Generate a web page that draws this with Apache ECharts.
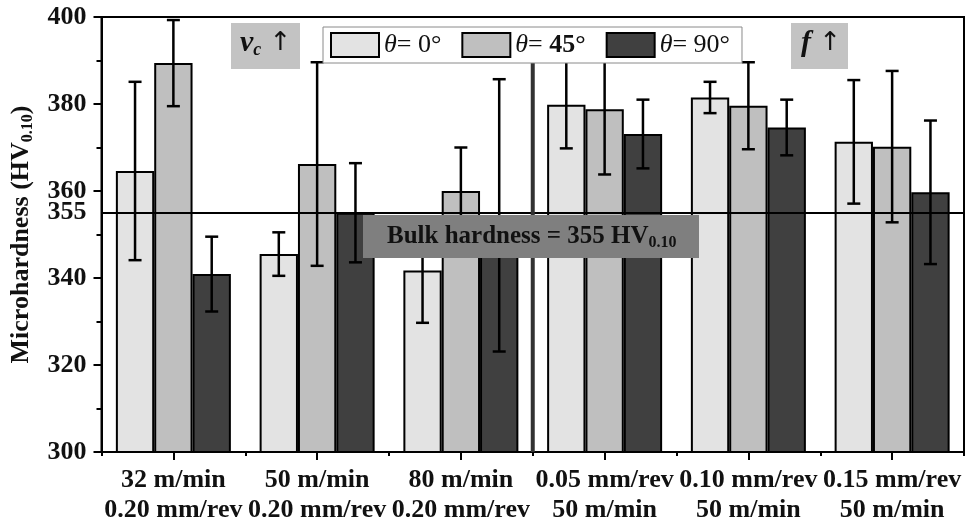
<!DOCTYPE html>
<html>
<head>
<meta charset="utf-8">
<script src="https://cdn.jsdelivr.net/npm/echarts@6/dist/echarts.min.js"></script>
<style>html,body{margin:0;padding:0;background:#fff}#c{width:965px;height:525px}</style>
</head>
<body>
<div id="c"></div>
<script>
// ---- data ----
const categories = ['32 m/min\n0.20 mm/rev', '50 m/min\n0.20 mm/rev', '80 m/min\n0.20 mm/rev',
                    '0.05 mm/rev\n50 m/min', '0.10 mm/rev\n50 m/min', '0.15 mm/rev\n50 m/min'];
const seriesNames = ['θ = 0°', 'θ = 45°', 'θ = 90°'];
const theta0    = [364.6, 345.5, 341.7, 379.8, 381.5, 371.3];
const theta0Err = [20.5, 5.0, 12.0, 10.0, 3.6, 14.2];
const theta45    = [389.4, 366.2, 360.0, 378.8, 379.6, 370.2];
const theta45Err = [9.9, 23.4, 10.0, 15.0, 10.0, 17.4];
const theta90    = [340.9, 355.0, 354.4, 373.1, 374.6, 359.7];
const theta90Err = [8.6, 11.4, 31.3, 7.9, 6.4, 16.5];
const bulkHardness = 355;
const yTickLabels = [300, 320, 340, 355, 360, 380, 400];
const separator = [[2, 300, 390.8]]; // between 80 m/min and 0.05 mm/rev groups

const colors = ['#e3e3e3', '#bfbfbf', '#404040'];
const FONT = '"Liberation Serif", "DejaVu Serif", serif';
const means = [theta0, theta45, theta90];
const errs = [theta0Err, theta45Err, theta90Err];
const CATGAP = 0.2;

const chart = echarts.init(document.getElementById('c'), null, {renderer: 'canvas'});

const series = [];
means.forEach((m, k) => {
  series.push({
    name: seriesNames[k], type: 'bar', data: m,
    barGap: '0%', barCategoryGap: (CATGAP * 100) + '%',
    itemStyle: {color: colors[k], borderColor: '#000', borderWidth: 2},
    z: 2
  });
});
means.forEach((m, k) => {
  series.push({
    type: 'custom', z: 3, silent: true,
    data: m.map((v, i) => [i, v - errs[k][i], v + errs[k][i]]),
    encode: {x: 0, y: [1, 2]},
    renderItem: function (params, api) {
      const i = api.value(0);
      const lo = api.coord([i, api.value(1)]);
      const hi = api.coord([i, api.value(2)]);
      const bw = api.size([1, 0])[0];
      const barW = bw * (1 - CATGAP) / 3;
      const x = lo[0] + (k - 1) * barW;
      const cap = 6.5;
      const st = {stroke: '#000', lineWidth: 2.5};
      return {type: 'group', children: [
        {type: 'line', shape: {x1: x, y1: lo[1], x2: x, y2: hi[1]}, style: st},
        {type: 'line', shape: {x1: x - cap, y1: hi[1], x2: x + cap, y2: hi[1]}, style: st},
        {type: 'line', shape: {x1: x - cap, y1: lo[1], x2: x + cap, y2: lo[1]}, style: st}
      ]};
    }
  });
});
series.push({
  type: 'custom', z: 5, silent: true,
  data: separator,
  encode: {x: 0, y: [1, 2]},
  renderItem: function (params, api) {
    const i = api.value(0);
    const bw = api.size([1, 0])[0];
    const lo = api.coord([i, api.value(1)]);
    const hi = api.coord([i, api.value(2)]);
    const x = lo[0] + bw / 2;
    return {type: 'line', shape: {x1: x, y1: lo[1], x2: x, y2: hi[1]},
            style: {stroke: '#333', lineWidth: 4}};
  },
  markLine: {
    silent: true, symbol: ['none', 'none'],
    lineStyle: {color: '#000', width: 2, type: 'solid'},
    label: {show: false},
    data: [{yAxis: bulkHardness}]
  }
});

const option = {
  animation: false,
  backgroundColor: '#fff',
  grid: {left: 100, right: 1, top: 17, bottom: 72, show: true, borderColor: '#000', borderWidth: 2, backgroundColor: 'transparent'},
  legend: {
    data: seriesNames,
    left: 323, top: 27,
    itemWidth: 48, itemHeight: 24, itemGap: 20,
    padding: [5, 12, 5, 7],
    icon: 'rect',
    borderColor: '#8a8a8a', borderWidth: 1, backgroundColor: '#fff',
    z: 6,
    formatter: function (n) {
      const deg = n.split('= ')[1];
      return '{i|θ}{n|= ' + (deg === '45°' ? '}{b|45°}' : deg + '}');
    },
    textStyle: {
      fontFamily: FONT, fontSize: 26, color: '#111',
      rich: {
        i: {fontFamily: FONT, fontSize: 26, fontStyle: 'italic', color: '#111'},
        n: {fontFamily: FONT, fontSize: 26, color: '#111'},
        b: {fontFamily: FONT, fontSize: 26, fontWeight: 'bold', color: '#111'}
      }
    }
  },
  xAxis: [{
    type: 'category', data: categories, position: 'bottom',
    axisLine: {show: true, lineStyle: {color: '#000', width: 2}},
    axisTick: {show: true, alignWithLabel: true, inside: false, length: 8, lineStyle: {color: '#000', width: 2}},
    axisLabel: {interval: 0, margin: 13, fontFamily: FONT, fontWeight: 'bold', fontSize: 26, lineHeight: 30, color: '#111'},
    splitLine: {show: false}
  }, {
    type: 'category', data: categories, position: 'bottom',
    axisLine: {show: false},
    axisTick: {show: true, inside: false, length: 4, lineStyle: {color: '#000', width: 2}},
    axisLabel: {show: false},
    splitLine: {show: false}
  }],
  yAxis: {
    type: 'value', min: 300, max: 400, interval: 20,
    name: '{a|Microhardness (HV}{s|0.10}{a|)}',
    nameLocation: 'middle', nameGap: 66, nameRotate: 90,
    nameTextStyle: {
      rich: {
        a: {fontFamily: FONT, fontWeight: 'bold', fontSize: 26, color: '#111'},
        s: {fontFamily: FONT, fontWeight: 'bold', fontSize: 16, color: '#111', padding: [13, 0, 0, 0]}
      }
    },
    axisLine: {show: true, lineStyle: {color: '#000', width: 2}},
    axisTick: {show: true, inside: false, length: 8, lineStyle: {color: '#000', width: 2}},
    minorTick: {show: true, splitNumber: 2, length: 5, lineStyle: {color: '#000', width: 2}},
    splitLine: {show: false},
    minorSplitLine: {show: false},
    axisLabel: {customValues: yTickLabels, margin: 15, fontFamily: FONT, fontWeight: 'bold', fontSize: 26, color: '#111'}
  },
  graphic: [
    {type: 'rect', left: 231, top: 23, z: 100, shape: {width: 69, height: 46}, style: {fill: '#c3c3c3'}},
    {type: 'text', left: 240, top: 28, z: 101, style: {
      text: '{v|v}{c|c}{a| ↑}',
      rich: {
        v: {fontFamily: FONT, fontStyle: 'italic', fontWeight: 'bold', fontSize: 30, fill: '#111'},
        c: {fontFamily: FONT, fontStyle: 'italic', fontWeight: 'bold', fontSize: 18, fill: '#111', padding: [14, 0, 0, 0]},
        a: {fontFamily: '"DejaVu Sans", sans-serif', fontSize: 26, fill: '#111'}
      }
    }},
    {type: 'rect', left: 791, top: 23, z: 100, shape: {width: 57, height: 46}, style: {fill: '#c3c3c3'}},
    {type: 'text', left: 801, top: 28, z: 101, style: {
      text: '{v|f}{a| ↑}',
      rich: {
        v: {fontFamily: FONT, fontStyle: 'italic', fontWeight: 'bold', fontSize: 30, fill: '#111'},
        a: {fontFamily: '"DejaVu Sans", sans-serif', fontSize: 26, fill: '#111'}
      }
    }},
    {type: 'rect', left: 363, top: 215, z: 100, shape: {width: 336, height: 43}, style: {fill: '#7f7f7f'}},
    {type: 'text', left: 387, top: 224, z: 101, style: {
      text: '{b|Bulk hardness = 355 HV}{s|0.10}',
      rich: {
        b: {fontFamily: FONT, fontWeight: 'bold', fontSize: 25, fill: '#111'},
        s: {fontFamily: FONT, fontWeight: 'bold', fontSize: 16, fill: '#111', padding: [13, 0, 0, 0]}
      }
    }}
  ],
  series: series
};
chart.setOption(option);
</script>
</body>
</html>
